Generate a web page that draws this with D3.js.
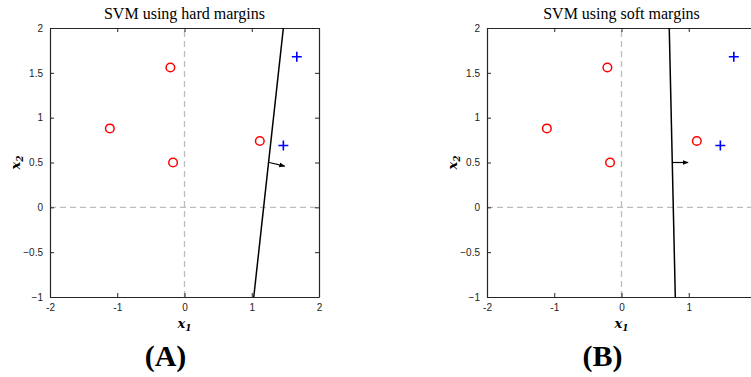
<!DOCTYPE html>
<html>
<head>
<meta charset="utf-8">
<script src="https://cdn.jsdelivr.net/npm/d3@7"></script>
<style>
  body { margin: 0; background: #fff; }
  svg { display: block; }
  .tick text { font-family: "Liberation Sans", Arial, sans-serif; font-size: 10px; fill: #222; }
</style>
</head>
<body>
<div id="chart"></div>
<script>
// data
const circles = [[-1.11, 0.88], [-0.21, 1.56], [-0.17, 0.50], [1.12, 0.74]];
const pluses = [[1.67, 1.68], [1.47, 0.69]];
const xTicks = [-2, -1, 0, 1, 2];
const yTicks = [-1, -0.5, 0, 0.5, 1, 1.5, 2];

const panels = [
  { title: "SVM using hard margins", tag: "(A)", left: 50,
    boundary: [[1.03, -1], [1.47, 2]], normal: [[1.26, 0.50], [1.49, 0.46]] },
  { title: "SVM using soft margins", tag: "(B)", left: 487,
    boundary: [[0.80, -1], [0.71, 2]], normal: [[0.76, 0.50], [0.99, 0.50]] }
];

const W = 751, H = 377;
const plotTop = 28, plotBottom = 297, plotW = 269;

const svg = d3.select("#chart").append("svg")
  .attr("width", W).attr("height", H);

svg.append("defs").append("marker")
  .attr("id", "arrow")
  .attr("viewBox", "0 0 10 10")
  .attr("refX", 9).attr("refY", 5)
  .attr("markerWidth", 5).attr("markerHeight", 5)
  .attr("orient", "auto")
  .append("path").attr("d", "M0,1 L10,5 L0,9 Z").attr("fill", "#000");

panels.forEach(p => {
  const x = d3.scaleLinear().domain([-2, 2]).range([p.left, p.left + plotW]);
  const y = d3.scaleLinear().domain([-1, 2]).range([plotBottom, plotTop]);
  const g = svg.append("g");

  // dashed zero lines
  g.append("line")
    .attr("x1", x(0)).attr("x2", x(0)).attr("y1", y(-1)).attr("y2", y(2))
    .attr("stroke", "#bdbdbd").attr("stroke-width", 1.3).attr("stroke-dasharray", "6,4");
  g.append("line")
    .attr("x1", x(-2)).attr("x2", x(2)).attr("y1", y(0)).attr("y2", y(0))
    .attr("stroke", "#bdbdbd").attr("stroke-width", 1.3).attr("stroke-dasharray", "6,4");

  // axes, ticks inward, box
  const axStyle = sel => {
    sel.select(".domain").attr("stroke", "#262626").attr("stroke-width", 1.2);
    sel.selectAll(".tick line").attr("stroke", "#262626");
  };
  // labels that would fall past the window edge are not shown (as in the reference)
  const xFmt = d => (x(d) > W - 4 ? "" : String(d));
  g.append("g").attr("transform", `translate(0,${plotBottom})`)
    .call(d3.axisBottom(x).tickValues(xTicks).tickSizeInner(-4).tickSizeOuter(0).tickPadding(7).tickFormat(xFmt))
    .call(axStyle);
  g.append("g").attr("transform", `translate(0,${plotTop})`)
    .call(d3.axisTop(x).tickValues(xTicks).tickSizeInner(-4).tickSizeOuter(0).tickFormat(""))
    .call(axStyle);
  g.append("g").attr("transform", `translate(${p.left},0)`)
    .call(d3.axisLeft(y).tickValues(yTicks).tickSizeInner(-4).tickSizeOuter(0).tickPadding(7).tickFormat(d3.format("")))
    .call(axStyle);
  g.append("g").attr("transform", `translate(${p.left + plotW},0)`)
    .call(d3.axisRight(y).tickValues(yTicks).tickSizeInner(-4).tickSizeOuter(0).tickFormat(""))
    .call(axStyle);
  g.selectAll(".tick text").attr("fill", "#222");

  // decision boundary
  g.append("line")
    .attr("x1", x(p.boundary[0][0])).attr("y1", y(p.boundary[0][1]))
    .attr("x2", x(p.boundary[1][0])).attr("y2", y(p.boundary[1][1]))
    .attr("stroke", "#000").attr("stroke-width", 1.5);
  // normal vector
  g.append("line")
    .attr("x1", x(p.normal[0][0])).attr("y1", y(p.normal[0][1]))
    .attr("x2", x(p.normal[1][0])).attr("y2", y(p.normal[1][1]))
    .attr("stroke", "#000").attr("stroke-width", 1.2)
    .attr("marker-end", "url(#arrow)");

  // class markers
  g.selectAll(".c").data(circles).enter().append("circle")
    .attr("cx", d => x(d[0])).attr("cy", d => y(d[1])).attr("r", 4.3)
    .attr("fill", "none").attr("stroke", "#ff0000").attr("stroke-width", 1.5);
  g.selectAll(".p").data(pluses).enter().append("path")
    .attr("d", d => `M${x(d[0]) - 5},${y(d[1])}H${x(d[0]) + 5}M${x(d[0])},${y(d[1]) - 5}V${y(d[1]) + 5}`)
    .attr("stroke", "#0000ff").attr("stroke-width", 1.6);

  const cx = x(0);
  g.append("text").attr("x", cx).attr("y", 19).attr("text-anchor", "middle")
    .attr("font-family", "'Liberation Serif', serif").attr("font-size", 16)
    .text(p.title);

  const xl = g.append("text").attr("x", cx).attr("y", 328).attr("text-anchor", "middle")
    .attr("font-family", "'DejaVu Serif', serif").attr("font-style", "italic").attr("font-weight", "bold").attr("font-size", 13);
  xl.append("tspan").text("x");
  xl.append("tspan").attr("font-size", 9).attr("dy", 3).text("1");

  const yl = g.append("text").attr("transform", `translate(${p.left - 30},${y(0.5)}) rotate(-90)`)
    .attr("text-anchor", "middle")
    .attr("font-family", "'DejaVu Serif', serif").attr("font-style", "italic").attr("font-weight", "bold").attr("font-size", 13);
  yl.append("tspan").text("x");
  yl.append("tspan").attr("font-size", 9).attr("dy", 3).text("2");

  g.append("text").attr("x", cx - 19).attr("y", 366).attr("text-anchor", "middle")
    .attr("font-family", "'Liberation Serif', serif").attr("font-weight", "bold").attr("font-size", 30)
    .text(p.tag);
});
</script>
</body>
</html>
